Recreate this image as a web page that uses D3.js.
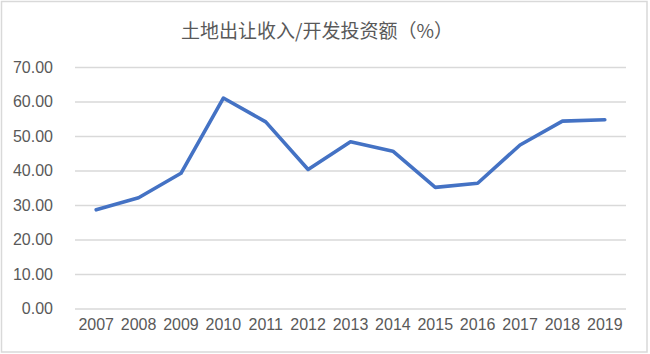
<!DOCTYPE html>
<html><head><meta charset="utf-8">
<script src="https://cdn.jsdelivr.net/npm/d3@7"></script>
<style>body{margin:0;background:#fff}svg{display:block}</style>
</head><body>
<svg id="c" width="650" height="354"></svg>
<script>
const title = "土地出让收入/开发投资额（%）";
const years = ["2007","2008","2009","2010","2011","2012","2013","2014","2015","2016","2017","2018","2019"];
const values = [28.6, 32.1, 39.2, 61.0, 54.1, 40.3, 48.3, 45.6, 35.1, 36.3, 47.4, 54.3, 54.7];
const yTicks = [0,10,20,30,40,50,60,70];

const svg = d3.select("#c");
const W = 650, H = 354;
const m = {left:75, right:24, top:67, bottom:45.5};
svg.append("rect").attr("x",1.5).attr("y",1.5).attr("width",W-4.5).attr("height",H-3.5)
  .attr("fill","#fff").attr("stroke","#d9d9d9").attr("stroke-width",1.5);

const x = d3.scaleBand().domain(years).range([m.left, W-m.right]);
const y = d3.scaleLinear().domain([0,70]).range([H-m.bottom, m.top]);

svg.append("text").attr("x",317).attr("y",37.5).attr("text-anchor","middle")
  .attr("font-family","'Noto Sans CJK SC', sans-serif").attr("font-size",19).attr("fill","#595959").text(title);

const gy = svg.append("g").attr("transform",`translate(${m.left},0)`)
  .call(d3.axisLeft(y).tickValues(yTicks).tickSize(-(W-m.left-m.right)).tickPadding(22).tickFormat(d3.format(".2f")));
gy.select(".domain").remove();
gy.selectAll("line").attr("stroke","#d9d9d9").attr("stroke-width",1.5);
gy.selectAll("text").attr("font-family","'Liberation Sans', Arial, sans-serif").attr("font-size",16).attr("fill","#595959");

const gx = svg.append("g").attr("transform",`translate(0,${H-m.bottom})`)
  .call(d3.axisBottom(x).tickSize(0).tickPadding(10));
gx.select(".domain").remove();
gx.selectAll("text").attr("font-family","'Liberation Sans', Arial, sans-serif").attr("font-size",16).attr("fill","#595959");

const line = d3.line().x((d,i)=>x(years[i])+x.bandwidth()/2).y(d=>y(d));
svg.append("path").datum(values).attr("d",line).attr("fill","none")
  .attr("stroke","#4472c4").attr("stroke-width",3.6).attr("stroke-linejoin","round").attr("stroke-linecap","round");
</script>
</body></html>
